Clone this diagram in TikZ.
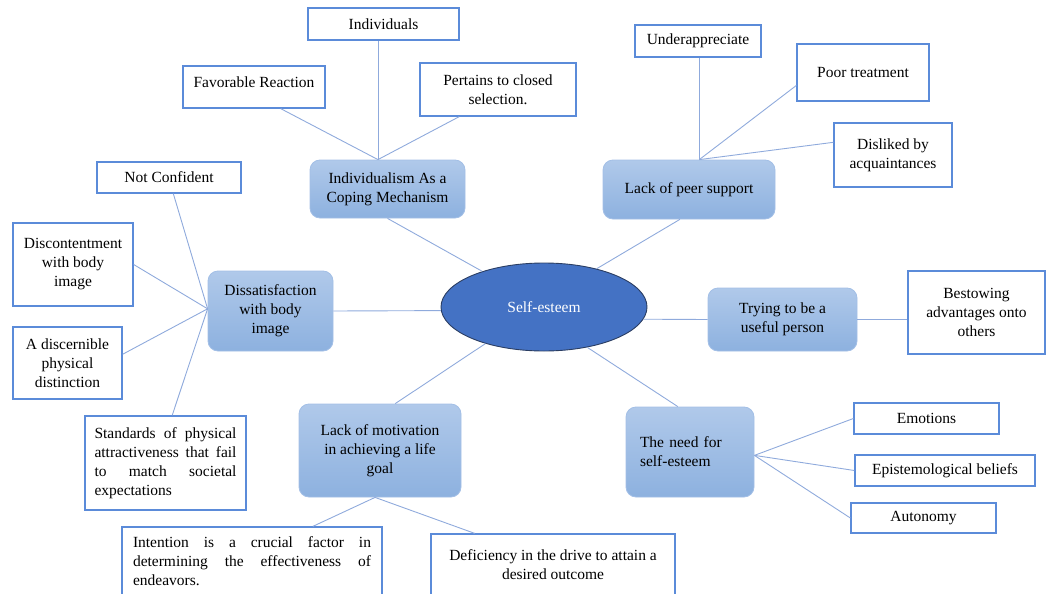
\documentclass[tikz,border=0pt]{standalone}
\usepackage{fontspec}
\setmainfont{Liberation Serif}
\usepackage{xcolor}
\usetikzlibrary{shapes.geometric}
\definecolor{leafedge}{HTML}{5B8BD9}
\definecolor{topictop}{HTML}{B0C9EA}
\definecolor{topicbot}{HTML}{8DB1DF}
\definecolor{topicedge}{HTML}{A3BFE6}
\definecolor{coreblue}{HTML}{4472C4}
\definecolor{coreedge}{HTML}{2B3E63}
\definecolor{branchblue}{HTML}{8FAADC}

\begin{document}
\begin{tikzpicture}[x=1pt, y=-1pt, font=\fontsize{15.5}{19}\selectfont,
  leafbox/.style={rectangle, draw=leafedge, line width=1.3pt, fill=white, align=center},
  topicbox/.style={rectangle, rounded corners=10pt, draw=topicedge, line width=0.8pt, top color=topictop, bottom color=topicbot, align=center},
  branch/.style={draw=branchblue, line width=0.9pt}]
\useasboundingbox (0,0) rectangle (1047,594);

% centre
\node (self) [ellipse, draw=coreedge, line width=0.9pt, fill=coreblue, text=white, minimum width=206pt, minimum height=88pt] at (544,307) {Self-esteem};

% topics
\node (indiv) [topicbox, minimum width=155pt, minimum height=58pt] at (387.5,189) {Individualism As a\\Coping Mechanism};
\node (peer) [topicbox, minimum width=172pt, minimum height=59pt] at (689,189.5) {Lack of peer support};
\node (body) [topicbox, minimum width=125pt, minimum height=80pt] at (270.5,311) {Dissatisfaction\\with body\\image};
\node (useful) [topicbox, minimum width=149pt, minimum height=63pt] at (782.5,319.5) {Trying to be a\\useful person};
\node (motiv) [topicbox, minimum width=162pt, minimum height=93pt] at (380,450.5) {Lack of motivation\\in achieving a life\\goal};
\node (need) [topicbox, minimum width=128pt, minimum height=90pt, text width=100pt, align=left] at (690,452) {The need for\\self-esteem};

% leaves
\node (persons) [leafbox, minimum width=151pt, minimum height=32pt] at (383.5,24) {Individuals};
\node (favour) [leafbox, minimum width=142pt, minimum height=42pt, text depth=9pt] at (254,87) {Favorable Reaction};
\node (closed) [leafbox, minimum width=156pt, minimum height=53pt] at (498,89.5) {Pertains to closed\\selection.};
\node (underapp) [leafbox, minimum width=126pt, minimum height=32pt] at (698,41) {Underappreciate};
\node (poor) [leafbox, minimum width=132pt, minimum height=57pt] at (863,72.5) {Poor treatment};
\node (disliked) [leafbox, minimum width=118pt, minimum height=64pt] at (893,155) {Disliked by\\acquaintances};
\node (notconf) [leafbox, minimum width=144pt, minimum height=31pt] at (169,177.5) {Not Confident};
\node (discont) [leafbox, minimum width=120pt, minimum height=83pt] at (73,264.5) {Discontentment\\with body\\image};
\node (distinct) [leafbox, minimum width=109pt, minimum height=72pt] at (67.5,363) {A discernible\\physical\\distinction};
\node (standards) [leafbox, minimum width=161pt, minimum height=94pt, text width=142pt, align=justify] at (165.5,463) {Standards of physical\linebreak attractiveness that fail\linebreak to match societal\linebreak expectations};
\node (bestow) [leafbox, minimum width=137pt, minimum height=83pt] at (976.5,312.5) {Bestowing\\advantages onto\\others};
\node (intent) [leafbox, minimum width=260pt, minimum height=69pt, text width=238pt, align=justify] at (252,561.5) {Intention is a crucial factor in\linebreak determining the effectiveness of\linebreak endeavors.};
\node (drive) [leafbox, minimum width=244pt, minimum height=62pt] at (553,565) {Deficiency in the drive to attain a\\desired outcome};
\node (emotions) [leafbox, minimum width=145pt, minimum height=31pt] at (926.5,418.5) {Emotions};
\node (beliefs) [leafbox, minimum width=180pt, minimum height=31pt] at (945,470.5) {Epistemological beliefs};
\node (autonomy) [leafbox, minimum width=145pt, minimum height=30pt] at (923.5,518) {Autonomy};

% centre to topics
\draw[branch] (self.150) -- (indiv.south);
\draw[branch] (self.36) -- (peer.253);
\draw[branch] (self.182) -- (body.east);
\draw[branch] (self.353) -- (useful.west);
\draw[branch] (self.212) -- (motiv.72);
\draw[branch] (self.317) -- (need.105);

% topics to leaves
\draw[branch] (indiv.108) -- (persons.south -| indiv.108);
\draw[branch] (indiv.108) -- (favour.321);
\draw[branch] (indiv.108) -- (closed.215);
\draw[branch] (peer.71) -- (underapp.south -| peer.71);
\draw[branch] (peer.71) -- (poor.191);
\draw[branch] (peer.71) -- (disliked.168);
\draw[branch] (body.178) -- (notconf.-75);
\draw[branch] (body.178) -- (discont.east);
\draw[branch] (body.178) -- (distinct.9);
\draw[branch] (body.178) -- (standards.82);
\draw[branch] (useful.east) -- (bestow.west |- useful.east);
\draw[branch] (motiv.264) -- (intent.30);
\draw[branch] (motiv.264) -- (drive.158);
\draw[branch] (need.-3) -- (emotions.west);
\draw[branch] (need.-3) -- (beliefs.west);
\draw[branch] (need.-3) -- (autonomy.west);
\end{tikzpicture}
\end{document}
